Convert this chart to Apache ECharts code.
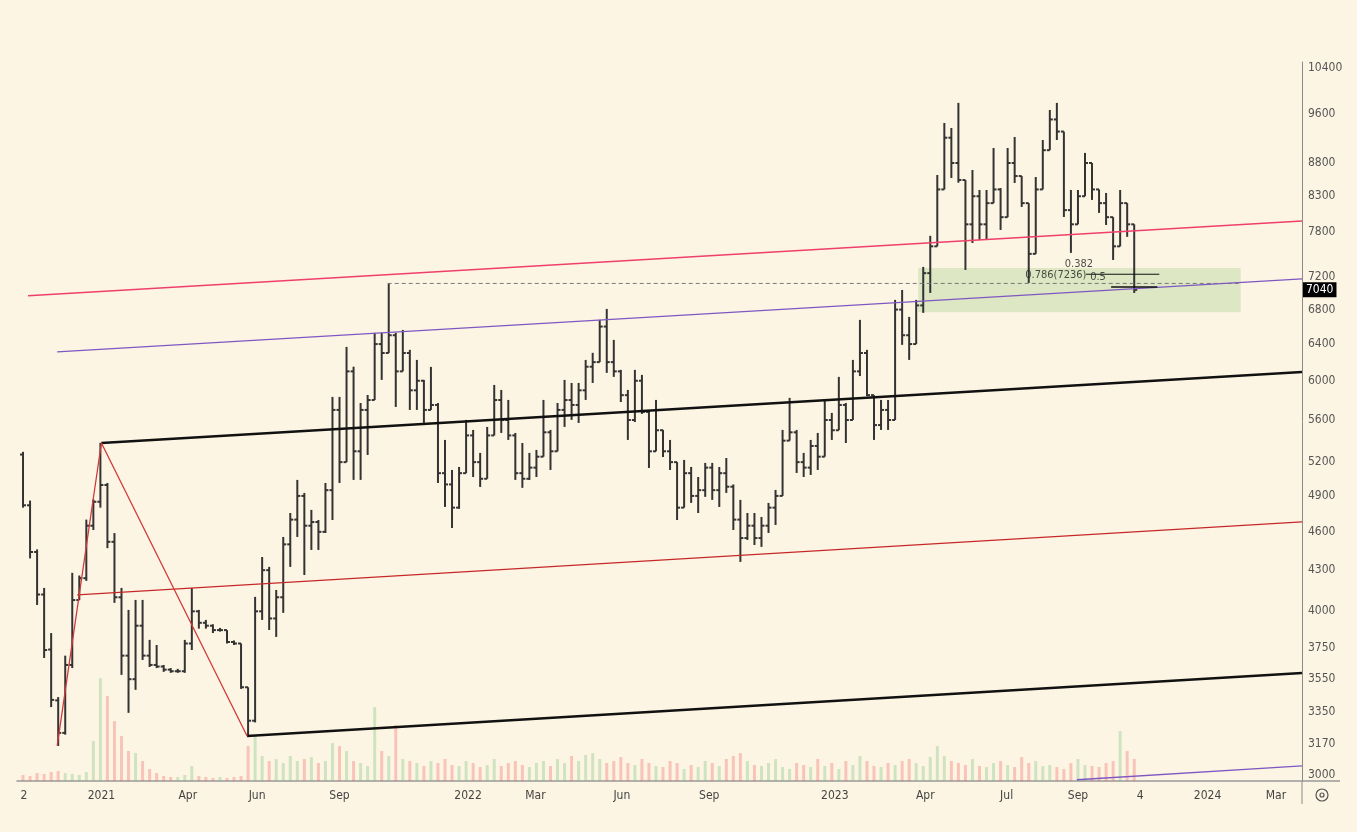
<!DOCTYPE html>
<html>
<head>
<meta charset="utf-8">
<title>Chart</title>
<script src="https://cdn.jsdelivr.net/npm/echarts@6/dist/echarts.min.js"></script>
<style>
  html, body { margin: 0; padding: 0; background: #fdf5e4; }
  #chart { width: 1357px; height: 832px; }
</style>
</head>
<body>
<div id="chart"></div>
<script>
// weekly bars, first week stamped on this date
const weekStart = '2020-10-15';

const opens = [
  5270,4820,4440,4120,3740,3420,3230,3640,4080,4240,
  4650,4850,4995,4520,4100,3700,3550,3900,3700,3640,
  3630,3610,3600,3600,3780,4000,3920,3900,3870,3870,
  3790,3780,3500,3300,4000,4300,3950,4100,4500,4700,
  4900,4650,4680,4600,4950,5700,5200,6100,5300,5700,
  5800,6400,6300,6500,6100,6300,5900,6000,5700,5750,
  5100,5000,4800,5100,5450,5200,5050,5450,5800,5600,
  5450,5100,5050,5150,5250,5480,5300,5700,5800,5750,
  5900,6150,6200,6600,6200,6100,5850,5600,6000,5680,
  5300,5500,5300,5200,4800,5100,4900,4950,5150,4950,
  5100,4980,4700,4550,4650,4550,4650,4800,4900,5400,
  5480,5200,5150,5350,5250,5600,5500,5750,5600,6100,
  6300,5850,5550,5700,5600,6800,6500,6400,6850,7250,
  7600,8400,9200,8800,8540,7900,8300,7900,8200,8400,
  8000,8800,8600,8200,7500,8400,9000,9500,9300,8100,
  7900,8300,8800,8400,8200,8000,7600,8200,7900
];
const highs = [
  5295,4860,4460,4168,3850,3440,3700,4280,4260,4700,
  4870,5380,5013,4590,4168,4010,4081,4081,3804,3770,
  3640,3620,3615,3804,4168,4010,3940,3910,3885,3870,
  3800,3780,3500,4103,4401,4325,4153,4559,4755,5040,
  4926,4781,4697,5013,5832,5832,6368,6150,5770,5852,
  6527,6527,7120,6527,6561,6335,6224,6009,6148,5770,
  5407,5129,5156,5601,5503,5285,5532,5956,5904,5801,
  5474,5378,5285,5313,5801,5503,5770,6009,5977,5977,
  6224,6302,6678,6808,6447,6116,5904,6116,6062,5690,
  5801,5503,5407,5200,5220,5156,5066,5193,5193,5156,
  5238,5000,4866,4755,4755,4722,4840,4952,5503,5822,
  5503,5285,5407,5474,5801,5670,6041,5770,6224,6678,
  6335,5850,5801,5801,6917,7039,6713,6917,7330,7742,
  8616,9441,9359,9781,8540,8692,8392,8392,9035,8420,
  9035,9212,8600,8200,8586,9163,9660,9781,9300,8392,
  8392,8957,8800,8400,8348,8000,8392,8200,7900
];
const lows = [
  4800,4390,4045,3685,3380,3157,3220,3620,4080,4220,
  4615,4800,4470,4060,3577,3346,3484,3672,3627,3620,
  3596,3590,3590,3590,3737,3880,3880,3850,3860,3780,
  3770,3490,3218,3290,3940,3871,3824,3989,4325,4559,
  4264,4456,4456,4591,4697,5013,5200,5040,5040,5266,
  5800,6009,6300,5730,6100,5700,5700,5571,5700,5013,
  4806,4631,4790,5100,5066,4978,5050,5450,5474,5407,
  5040,4970,5040,5066,5250,5129,5300,5532,5601,5571,
  5801,5977,6200,6084,6041,5780,5407,5580,5660,5147,
  5300,5247,5129,4697,4800,4840,4755,4892,4866,4806,
  4926,4615,4363,4535,4495,4480,4591,4656,4900,5400,
  5102,5066,5084,5129,5250,5407,5500,5378,5600,6050,
  5840,5407,5503,5503,5600,6391,6224,6400,6761,7002,
  7600,8400,8571,8500,7291,7645,7686,7686,8200,7822,
  8000,8496,8145,7126,7500,8400,9000,9163,8003,7513,
  7900,8300,8246,8060,7891,7420,7600,7728,7002
];
const closes = [
  4820,4440,4120,3737,3423,3230,3640,4080,4240,4650,
  4850,4995,4520,4100,3700,3550,3900,3700,3640,3630,
  3610,3600,3600,3780,4000,3920,3900,3870,3870,3790,
  3780,3500,3300,4000,4300,3950,4100,4500,4700,4900,
  4650,4680,4600,4950,5700,5200,6100,5300,5700,5800,
  6400,6300,6500,6100,6300,5900,6000,5700,5750,5100,
  5000,4800,5100,5450,5200,5050,5450,5800,5600,5450,
  5100,5050,5150,5250,5480,5300,5700,5800,5750,5900,
  6150,6200,6600,6200,6100,5850,5600,6000,5680,5300,
  5500,5300,5200,4800,5100,4900,4950,5150,4950,5100,
  4980,4700,4550,4650,4550,4650,4800,4900,5400,5480,
  5200,5150,5350,5250,5600,5500,5750,5600,6100,6300,
  5850,5550,5700,5600,6800,6500,6400,6850,7250,7600,
  8400,9200,8800,8540,7900,8300,7900,8200,8400,8000,
  8800,8600,8200,7500,8400,9000,9500,9300,8100,7900,
  8300,8800,8400,8200,8000,7600,8200,7900,7040
];
const volumes = [
  6,5,8,7,9,10,8,7,6,9,
  40,103,85,60,45,30,28,
  20,12,8,5,4,4,6,15,5,4,3,4,3,4,5,
  35,45,
  25,20,22,18,25,20,22,24,18,20,
  38,35,30,20,18,15,
  74,30,25,56,22,20,
  18,15,20,18,22,16,15,20,18,14,16,22,15,18,20,
  16,14,18,20,15,22,18,25,20,26,28,22,18,20,24,18,16,22,18,15,14,20,18,12,16,14,20,18,15,22,
  25,28,20,16,15,18,22,14,12,18,16,14,22,15,18,12,20,16,25,20,15,14,18,16,20,22,18,15,24,35,
  25,20,18,16,22,15,14,18,20,16,14,24,18,20,15,16,14,12,18,22,16,15,14,18,20,50,30,22
];

const xTickDates = ['2020-10-16','2021-01-01','2021-03-28','2021-06-05','2021-08-26','2022-01-01',
  '2022-03-09','2022-06-03','2022-08-29','2023-01-01','2023-04-01','2023-06-21','2023-08-31',
  '2023-11-01','2024-01-07','2024-03-15'];
const xTickLabels = ['2','2021','Apr','Jun','Sep','2022','Mar','Jun','Sep','2023','Apr','Jul','Sep','4','2024','Mar'];
const yTicks = [3000,3170,3350,3550,3750,4000,4300,4600,4900,5200,5600,6000,6400,6800,7200,7800,8300,8800,9600,10400];

// drawings
const pinkLine = [['2020-10-20', 6966], ['2024-04-10', 7947]];
const purpleLine = [['2020-11-18', 6313], ['2024-04-10', 7177]];
const purpleLow = [['2023-08-30', 2975], ['2024-04-10', 3048]];
const blackUpper = [['2021-01-01', 5378], ['2024-04-10', 6094]];
const blackLower = [['2021-05-26', 3212], ['2024-04-10', 3589]];
const redMid = [['2020-12-08', 4117], ['2024-04-10', 4681]];
const zigzag = [['2020-11-18', 3157], ['2021-01-01', 5378], ['2021-05-26', 3212]];
const highDash = [['2021-10-13', 7120], ['2024-02-08', 7120]];
const fibLine1 = [['2023-09-08', 7236], ['2023-11-20', 7236]];
const fibLine2 = [['2023-10-03', 7076], ['2023-11-18', 7076]];
const fibTexts = [['2023-09-01', 7369, '0.382'], ['2023-08-09', 7227, '0.786(7236)'], ['2023-09-20', 7200, '0.5']];
const zoneBox = [['2023-03-25', 7315], ['2024-02-09', 6768]];
const lastPrice = 7040;

const FONT = "'DejaVu Sans Condensed', 'Liberation Sans Narrow', 'Roboto', sans-serif";
const DAY = 864e5;

const t = s => Date.parse(s + 'T00:00:00Z');
const pts = arr => arr.map(p => [t(p[0]), p[1]]);

const weeks = closes.map((c, i) => t(weekStart) + i * 7 * DAY);
const ohlc = weeks.map((d, i) => [d, opens[i], highs[i], lows[i], closes[i]]);
const vol = weeks.map((d, i) => ({
  value: [d, volumes[i]],
  itemStyle: { color: closes[i] >= opens[i] ? 'rgba(102,187,106,0.3)' : 'rgba(239,83,80,0.3)' }
}));

const xTickTimes = xTickDates.map(t);

function xLabel(val) {
  let best = 0;
  for (let i = 1; i < xTickTimes.length; i++) {
    if (Math.abs(xTickTimes[i] - val) < Math.abs(xTickTimes[best] - val)) best = i;
  }
  return xTickLabels[best];
}

function renderOHLC(params, api) {
  const x = api.value(0);
  const o = api.coord([x, api.value(1)]);
  const h = api.coord([x, api.value(2)]);
  const l = api.coord([x, api.value(3)]);
  const c = api.coord([x, api.value(4)]);
  const style = { stroke: '#333', lineWidth: 2 };
  return {
    type: 'group',
    children: [
      { type: 'line', shape: { x1: h[0], y1: h[1], x2: l[0], y2: l[1] }, style },
      { type: 'line', shape: { x1: o[0] - 3, y1: o[1], x2: o[0], y2: o[1] }, style },
      { type: 'line', shape: { x1: c[0], y1: c[1], x2: c[0] + 3, y2: c[1] }, style }
    ]
  };
}

function drawing(data, color, width, extra) {
  return Object.assign({
    type: 'line', data: pts(data), symbol: 'none', silent: true, z: 5,
    lineStyle: { color, width }
  }, extra || {});
}

const chart = echarts.init(document.getElementById('chart'));
chart.setOption({
  backgroundColor: '#fdf5e4',
  animation: false,
  grid: { left: 17, right: 55, top: 62, bottom: 51 },
  xAxis: {
    type: 'value',
    min: t('2020-10-09'),
    max: t('2024-04-10'),
    splitLine: { show: false },
    axisTick: { show: false },
    axisLine: { show: true, lineStyle: { color: '#999', width: 1.5 } },
    axisLabel: {
      customValues: xTickTimes,
      formatter: xLabel,
      color: '#444', fontFamily: FONT, fontSize: 12, margin: 9
    }
  },
  yAxis: [{
    type: 'log',
    position: 'right',
    min: 2968,
    max: 10510,
    splitLine: { show: false },
    axisTick: { show: false },
    axisLine: { show: true, lineStyle: { color: '#8a8a8a', width: 1 } },
    axisLabel: {
      customValues: yTicks,
      formatter: v => String(Math.round(v)),
      color: '#555', fontFamily: FONT, fontSize: 12, margin: 6
    }
  }, {
    type: 'value', min: 0, max: 720, show: false
  }],
  series: [
    {
      type: 'bar', yAxisIndex: 1, data: vol, barWidth: 3, silent: true, z: 1
    },
    {
      type: 'custom', renderItem: renderOHLC, data: ohlc,
      encode: { x: 0, y: [1, 2, 3, 4] }, z: 3, silent: true
    },
    drawing(highDash, '#777', 1, {
      lineStyle: { color: '#777', width: 1, type: [4, 3] },
      markArea: {
        silent: true,
        itemStyle: { color: 'rgba(150,200,120,0.3)' },
        data: [[{ coord: [t(zoneBox[0][0]), zoneBox[0][1]] }, { coord: [t(zoneBox[1][0]), zoneBox[1][1]] }]]
      }
    }),
    drawing(pinkLine, '#ef3f6b', 1.5),
    drawing(purpleLine, '#7e57c2', 1.3),
    drawing(purpleLow, '#7e57c2', 1.5),
    drawing(blackUpper, '#111', 2.5),
    drawing(blackLower, '#111', 2.5),
    drawing(redMid, '#c62828', 1.3),
    drawing(zigzag, '#d03a3a', 1.3),
    drawing(fibLine1, '#111', 1),
    drawing(fibLine2, '#111', 1.5, {
      markLine: {
        silent: true, symbol: 'none',
        lineStyle: { color: 'transparent', width: 0 },
        label: {
          show: true, position: 'end', distance: 1, formatter: String(lastPrice),
          backgroundColor: '#000', color: '#fff', padding: [2, 3, 1, 3],
          fontFamily: FONT, fontSize: 12
        },
        data: [{ yAxis: lastPrice }]
      }
    }),
    {
      type: 'scatter', data: pts(fibTexts).map((p, i) => [p[0], p[1], fibTexts[i][2]]),
      symbolSize: 1, silent: true, z: 6,
      itemStyle: { color: 'transparent' },
      label: {
        show: true, position: 'inside', formatter: p => p.data[2],
        color: '#222', fontFamily: FONT, fontSize: 11
      }
    }
  ],
  graphic: [
    { type: 'line', shape: { x1: 1302, y1: 781, x2: 1302, y2: 804 }, style: { stroke: '#8a8a8a', lineWidth: 1 } },
    { type: 'line', shape: { x1: 1302, y1: 781, x2: 1340, y2: 781 }, style: { stroke: '#999', lineWidth: 1.5 } },
    { type: 'circle', shape: { cx: 1322, cy: 795, r: 6 }, style: { fill: 'none', stroke: '#555', lineWidth: 1.2 } },
    { type: 'circle', shape: { cx: 1322, cy: 795, r: 2 }, style: { fill: 'none', stroke: '#555', lineWidth: 1.2 } }
  ]
});
</script>
</body>
</html>
